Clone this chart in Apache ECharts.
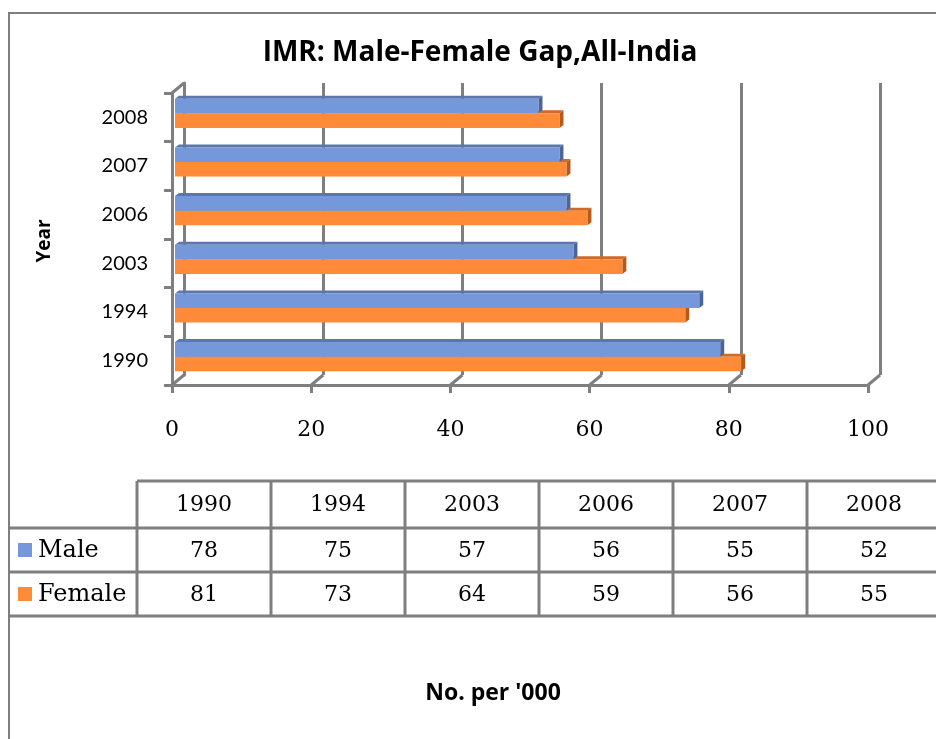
<!DOCTYPE html>
<html>
<head>
<meta charset="utf-8">
<script src="https://cdn.jsdelivr.net/npm/echarts@6/dist/echarts.min.js"></script>
<style>
  html, body { margin: 0; padding: 0; background: #fff; }
  #chart { width: 936px; height: 739px; }
</style>
</head>
<body>
<div id="chart"></div>
<script>
// Infant mortality rate (per '000) by sex, All-India
const years = ['1990', '1994', '2003', '2006', '2007', '2008'];
const male = [78, 75, 57, 56, 55, 52];
const female = [81, 73, 64, 59, 56, 55];
const xTicks = [0, 20, 40, 60, 80, 100];
const seriesNames = ['Male', 'Female'];

const GRAY = '#7f7f7f';
const MALE = { front: '#7598da', top: '#5b77ab', side: '#4b6598' };
const FEMALE = { front: '#ff8a38', top: '#d06a26', side: '#b5591c' };

// wall / floor geometry (front plane, back plane shifted by depth)
const FRONT = { left: 172, top: 93, width: 696, height: 292 };
const DEPTH = { dx: 12, dy: -10 };

const chart = echarts.init(document.getElementById('chart'), null, { renderer: 'canvas' });

// 3D-looking bar: front face, top face and right side face
function prism(colors, rowOffset) {
  return function (params, api) {
    const v = api.value(0), i = api.value(1);
    const p0 = api.coord([0, i]);
    const p1 = api.coord([v, i]);
    const band = api.size([0, 1])[1];
    const h = band * 0.3;
    const dx = 4, dy = 3;
    const y0 = p0[1] + rowOffset * h;
    const x0 = p0[0], x1 = p1[0];
    return {
      type: 'group',
      children: [
        { type: 'polygon', shape: { points: [[x0, y0], [x0 + dx, y0 - dy], [x1 + dx, y0 - dy], [x1, y0]] },
          style: { fill: colors.top } },
        { type: 'polygon', shape: { points: [[x1, y0], [x1 + dx, y0 - dy], [x1 + dx, y0 + h - dy], [x1, y0 + h]] },
          style: { fill: colors.side } },
        { type: 'rect', shape: { x: x0, y: y0, width: x1 - x0, height: h },
          style: { fill: colors.front } }
      ]
    };
  };
}

const axisLine = { show: true, lineStyle: { color: GRAY, width: 3 } };

const option = {
  animation: false,
  grid: [
    // bars
    { left: 175, top: 89, width: 699, height: 292 },
    // front axes
    { left: FRONT.left, top: FRONT.top, width: FRONT.width, height: FRONT.height },
    // back wall
    { left: FRONT.left + DEPTH.dx, top: FRONT.top + DEPTH.dy, width: FRONT.width, height: FRONT.height }
  ],
  xAxis: [
    { gridIndex: 0, type: 'value', min: xTicks[0], max: xTicks[xTicks.length - 1], show: false },
    { gridIndex: 1, type: 'value', min: xTicks[0], max: xTicks[xTicks.length - 1], interval: xTicks[1] - xTicks[0],
      axisLine: axisLine,
      axisTick: { show: true, inside: false, length: 8, lineStyle: { color: GRAY, width: 3 } },
      axisLabel: { margin: 34, fontFamily: 'DejaVu Serif', fontSize: 22, color: '#000' },
      splitLine: { show: false } },
    { gridIndex: 2, type: 'value', min: xTicks[0], max: xTicks[xTicks.length - 1], interval: xTicks[1] - xTicks[0],
      axisLine: { show: false }, axisTick: { show: false }, axisLabel: { show: false },
      splitLine: { show: true, lineStyle: { color: GRAY, width: 3 } } }
  ],
  yAxis: [
    { gridIndex: 0, type: 'category', data: years, show: false },
    { gridIndex: 1, type: 'category', data: years,
      axisLine: axisLine,
      axisTick: { show: true, length: 8, lineStyle: { color: GRAY, width: 3 } },
      axisLabel: { margin: 24, fontFamily: 'Lato', fontSize: 20, color: '#000' },
      splitLine: { show: false } },
    { gridIndex: 2, type: 'category', data: years,
      axisLine: axisLine, axisTick: { show: false }, axisLabel: { show: false }, splitLine: { show: false } }
  ],
  series: [
    { type: 'custom', name: seriesNames[1], xAxisIndex: 0, yAxisIndex: 0, z: 3,
      encode: { x: 0, y: 1 },
      data: female.map((v, i) => [v, i]),
      renderItem: prism(FEMALE, 0) },
    { type: 'custom', name: seriesNames[0], xAxisIndex: 0, yAxisIndex: 0, z: 4,
      encode: { x: 0, y: 1 },
      data: male.map((v, i) => [v, i]),
      renderItem: prism(MALE, -1) }
  ]
};
chart.setOption(option);

// floor edges joining front axis ticks to the back wall
const floorY = FRONT.top + FRONT.height;
const graphics = [];
xTicks.forEach(t => {
  const x = chart.convertToPixel({ xAxisIndex: 1 }, t);
  graphics.push({ type: 'line', z: 2, shape: { x1: x, y1: floorY, x2: x + DEPTH.dx, y2: floorY + DEPTH.dy },
    style: { stroke: GRAY, lineWidth: 3 } });
});
graphics.push({ type: 'line', z: 2, shape: { x1: FRONT.left, y1: FRONT.top, x2: FRONT.left + DEPTH.dx, y2: FRONT.top + DEPTH.dy },
  style: { stroke: GRAY, lineWidth: 3 } });

// outer chart frame
graphics.push({ type: 'rect', shape: { x: 9, y: 13, width: 1000, height: 800 },
  style: { fill: null, stroke: GRAY, lineWidth: 2 } });

// title and axis names
graphics.push({ type: 'text', x: 480, y: 53, style: { text: 'IMR: Male-Female Gap,All-India',
  font: 'bold 28px "Open Sans"', fill: '#000', align: 'center', verticalAlign: 'middle' } });
graphics.push({ type: 'text', x: 45, y: 241, rotation: Math.PI / 2, style: { text: 'Year',
  font: 'bold 19px "Open Sans"', fill: '#000', align: 'center', verticalAlign: 'middle' } });
graphics.push({ type: 'text', x: 493, y: 693, style: { text: "No. per '000",
  font: 'bold 23px "Open Sans"', fill: '#000', align: 'center', verticalAlign: 'middle' } });

// data table
const colX = [137, 271, 405, 539, 673, 807, 941];
const rowY = [481, 528, 572, 616];
const tableStroke = { stroke: GRAY, lineWidth: 3 };
graphics.push({ type: 'line', shape: { x1: colX[0], y1: rowY[0], x2: 1000, y2: rowY[0] }, style: tableStroke });
for (let r = 1; r < rowY.length; r++) {
  graphics.push({ type: 'line', shape: { x1: 9, y1: rowY[r], x2: 1000, y2: rowY[r] }, style: tableStroke });
}
colX.forEach(x => {
  graphics.push({ type: 'line', shape: { x1: x, y1: rowY[0], x2: x, y2: rowY[3] }, style: tableStroke });
});
const cellFont = '22px "DejaVu Serif"';
years.forEach((y, i) => {
  const cx = (colX[i] + colX[i + 1]) / 2;
  [[y, rowY[0], rowY[1]], [String(male[i]), rowY[1], rowY[2]], [String(female[i]), rowY[2], rowY[3]]].forEach(c => {
    graphics.push({ type: 'text', x: cx, y: (c[1] + c[2]) / 2 + 1, style: { text: c[0], font: cellFont,
      fill: '#000', align: 'center', verticalAlign: 'middle' } });
  });
});
[[MALE.front, seriesNames[0], rowY[1], rowY[2]], [FEMALE.front, seriesNames[1], rowY[2], rowY[3]]].forEach(k => {
  const cy = (k[2] + k[3]) / 2;
  graphics.push({ type: 'rect', shape: { x: 18, y: cy - 7, width: 14, height: 14 }, style: { fill: k[0] } });
  graphics.push({ type: 'text', x: 38, y: cy + 1, style: { text: k[1], font: '24px "DejaVu Serif"',
    fill: '#000', align: 'left', verticalAlign: 'middle' } });
});

chart.setOption({ graphic: { elements: graphics } });
</script>
</body>
</html>
